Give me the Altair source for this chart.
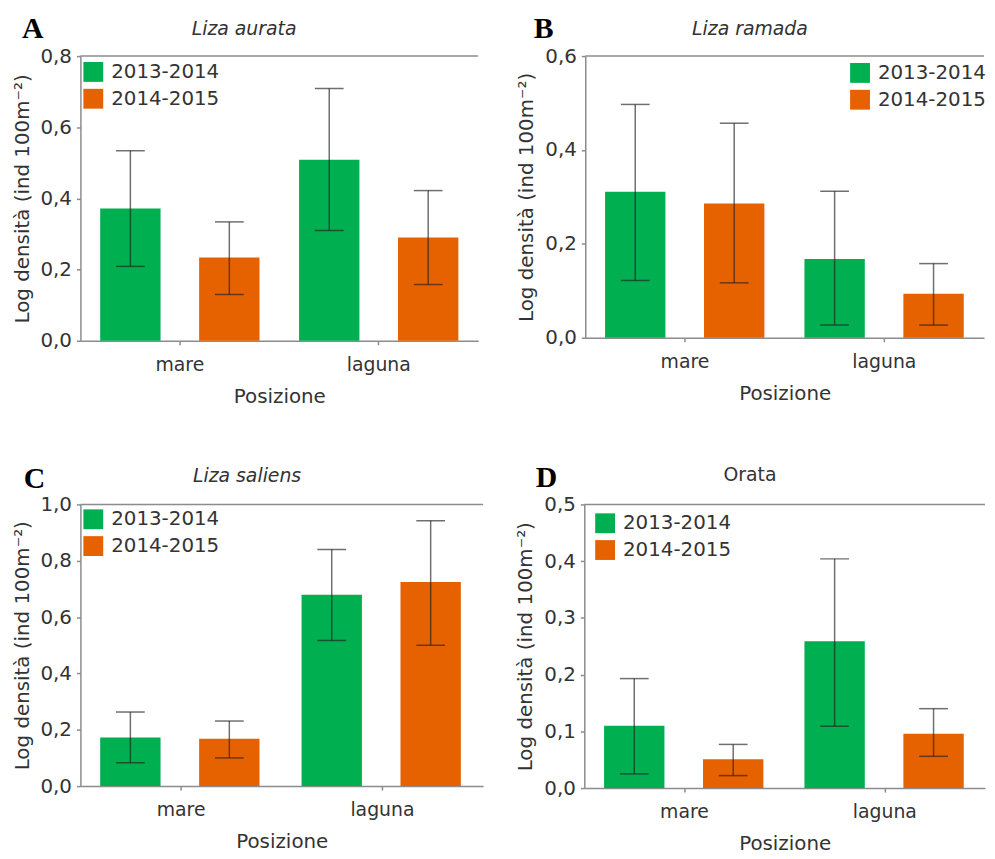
import altair as alt
import pandas as pd

positions = ["mare", "laguna"]
years = ["2013-2014", "2014-2015"]
colors = ["#00B050", "#E66100"]

# Panel A - Liza aurata  (values for [mare, laguna])
A_mean_13 = [0.372, 0.509]
A_lo_13 = [0.209, 0.310]
A_hi_13 = [0.534, 0.709]
A_mean_14 = [0.234, 0.290]
A_lo_14 = [0.130, 0.158]
A_hi_14 = [0.334, 0.422]
A_ticks = [0.0, 0.2, 0.4, 0.6, 0.8]

# Panel B - Liza ramada
B_mean_13 = [0.311, 0.168]
B_lo_13 = [0.122, 0.027]
B_hi_13 = [0.497, 0.312]
B_mean_14 = [0.286, 0.094]
B_lo_14 = [0.117, 0.027]
B_hi_14 = [0.457, 0.158]
B_ticks = [0.0, 0.2, 0.4, 0.6]

# Panel C - Liza saliens
C_mean_13 = [0.173, 0.679]
C_lo_13 = [0.083, 0.517]
C_hi_13 = [0.263, 0.840]
C_mean_14 = [0.168, 0.725]
C_lo_14 = [0.100, 0.500]
C_hi_14 = [0.231, 0.942]
C_ticks = [0.0, 0.2, 0.4, 0.6, 0.8, 1.0]

# Panel D - Orata
D_mean_13 = [0.110, 0.259]
D_lo_13 = [0.025, 0.109]
D_hi_13 = [0.193, 0.404]
D_mean_14 = [0.051, 0.096]
D_lo_14 = [0.022, 0.056]
D_hi_14 = [0.077, 0.140]
D_ticks = [0.0, 0.1, 0.2, 0.3, 0.4, 0.5]

YTITLE = "Log densità (ind 100m⁻²)"
FONT = "DejaVu Sans"


def panel(letter, species, italic, m13, lo13, hi13, m14, lo14, hi14, ticks,
          width, height, leg_x, leg_y, letter_pos, title_pos):
    rows = []
    for i, p in enumerate(positions):
        rows.append({"pos": p, "year": years[0], "mean": m13[i], "lo": lo13[i], "hi": hi13[i]})
        rows.append({"pos": p, "year": years[1], "mean": m14[i], "lo": lo14[i], "hi": hi14[i]})
    df = pd.DataFrame(rows)
    ymax = ticks[-1]

    x = alt.X("pos:N", sort=positions, title="Posizione",
              scale=alt.Scale(paddingInner=0, paddingOuter=0),
              axis=alt.Axis(labelAngle=0, labelFontSize=19, titleFontSize=20,
                            labelPadding=11, titlePadding=12, tickSize=4))
    xo = alt.XOffset("year:N", sort=years,
                     scale=alt.Scale(paddingInner=0.39, paddingOuter=0.2))
    yscale = alt.Scale(domain=[0, ymax], nice=False, zero=True)
    yaxis = alt.Axis(values=ticks, title=YTITLE, grid=False,
                     labelExpr="replace(format(datum.value, '.1f'), '.', ',')",
                     labelFontSize=20, titleFontSize=20, tickSize=4,
                     labelPadding=5, titlePadding=8)

    base = alt.Chart(df)
    bars = base.mark_bar().encode(
        x=x, xOffset=xo,
        y=alt.Y("mean:Q", scale=yscale, axis=yaxis),
        color=alt.Color("year:N", sort=years,
                        scale=alt.Scale(domain=years, range=colors),
                        legend=alt.Legend(orient="none", legendX=leg_x, legendY=leg_y,
                                          title=None, symbolType="square", symbolSize=400,
                                          symbolStrokeWidth=0, symbolOpacity=1,
                                          labelFontSize=20, labelFont=FONT, labelColor="#333",
                                          labelOffset=8, rowPadding=7, padding=0)),
    )
    err = base.mark_rule(color="#222", opacity=0.65, strokeWidth=1.5).encode(
        x=x, xOffset=xo, y=alt.Y("lo:Q"), y2="hi:Q")
    cap_hi = base.mark_tick(color="#222", opacity=0.65, thickness=1.5, size=29).encode(
        x=x, xOffset=xo, y=alt.Y("hi:Q"))
    cap_lo = base.mark_tick(color="#222", opacity=0.65, thickness=1.5, size=29).encode(
        x=x, xOffset=xo, y=alt.Y("lo:Q"))
    top = alt.Chart(pd.DataFrame({"v": [ymax]})).mark_rule(
        color="#8c8c8c", strokeWidth=1.5).encode(y=alt.Y("v:Q"))

    lab = alt.Chart(pd.DataFrame({"t": [letter]})).mark_text(
        font="Liberation Serif", fontWeight="bold", fontSize=30, align="left",
        baseline="top", color="#000").encode(
        text="t:N", x=alt.value(letter_pos[0]), y=alt.value(letter_pos[1]))
    ttl = alt.Chart(pd.DataFrame({"t": [species]})).mark_text(
        font=FONT, fontSize=19, fontStyle="italic" if italic else "normal",
        align="center", baseline="alphabetic", color="#333").encode(
        text="t:N", x=alt.value(title_pos[0]), y=alt.value(title_pos[1]))

    return alt.layer(bars, err, cap_hi, cap_lo, top, lab, ttl).properties(
        width=width, height=height)


pA = panel("A", "Liza aurata", True, A_mean_13, A_lo_13, A_hi_13, A_mean_14, A_lo_14, A_hi_14,
           A_ticks, 401, 287, 3, 6, (-59, -42), (165, -21))
pB = panel("B", "Liza ramada", True, B_mean_13, B_lo_13, B_hi_13, B_mean_14, B_lo_14, B_hi_14,
           B_ticks, 402, 284, 267, 7, (-52, -42), (166, -21))
pC = panel("C", "Liza saliens", True, C_mean_13, C_lo_13, C_hi_13, C_mean_14, C_lo_14, C_hi_14,
           C_ticks, 406, 284, 3, 5, (-57, -41), (168, -23))
pD = panel("D", "Orata", False, D_mean_13, D_lo_13, D_hi_13, D_mean_14, D_lo_14, D_hi_14,
           D_ticks, 404, 286, 11, 9, (-49, -42), (167, -24))

row1 = alt.hconcat(pA, pB, spacing=38).resolve_scale(y="independent", x="independent", color="independent")
row2 = alt.hconcat(pC, pD, spacing=32).resolve_scale(y="independent", x="independent", color="independent")

chart = alt.vconcat(row1, row2, spacing=57).resolve_scale(
    y="independent", x="independent", color="independent"
).properties(
    padding={"left": 4, "top": 3, "right": 0, "bottom": 0}
).configure_axis(
    domainColor="#8c8c8c", domainWidth=1.5, tickColor="#8c8c8c", tickWidth=1.5,
    labelColor="#333", titleColor="#333", labelFont=FONT, titleFont=FONT,
    titleFontWeight="normal"
).configure_view(stroke=None)

chart.save("out.html", embed_options={"renderer": "svg", "actions": False})
